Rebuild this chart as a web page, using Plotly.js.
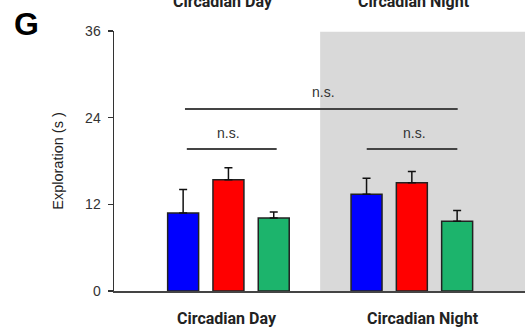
<!DOCTYPE html>
<html>
<head>
<meta charset="utf-8">
<script src="https://cdn.plot.ly/plotly-3.0.1.min.js"></script>
<style>html,body{margin:0;padding:0;background:#fff;}#chart{width:531px;height:329px;}</style>
</head>
<body>
<div id="chart"></div>
<script>
var categories = ["Circadian Day", "Circadian Night"];
var blueValues = [10.8, 13.4];
var blueErrors = [3.25, 2.2];
var redValues = [15.4, 15.0];
var redErrors = [1.65, 1.55];
var greenValues = [10.1, 9.65];
var greenErrors = [0.85, 1.5];
var yTicks = [0, 12, 24, 36];
var sigLabel = "n.s.";

function barTrace(vals, errs, color) {
  return {
    type: "bar",
    x: categories,
    y: vals,
    marker: {color: color, line: {color: "#222", width: 1.5}},
    error_y: {type: "data", array: errs, arrayminus: errs.map(function(){return 0;}), symmetric: false,
              color: "#111", thickness: 1.5, width: 4},
    hoverinfo: "none",
    showlegend: false
  };
}

var data = [
  barTrace(blueValues, blueErrors, "#0000ff"),
  barTrace(redValues, redErrors, "#ff0000"),
  barTrace(greenValues, greenErrors, "#1cb46c")
];

var tickFont = {family: "Liberation Sans, Arial, sans-serif", size: 14, color: "#333"};
var catFont = {family: "Roboto, Arial, sans-serif", size: 16, color: "#222", weight: "bold"};
var nsFont = {family: "Liberation Sans, Arial, sans-serif", size: 14, color: "#333"};

var layout = {
  width: 531, height: 329,
  margin: {l: 114, r: 6, t: 31, b: 38, pad: 0},
  paper_bgcolor: "#fff", plot_bgcolor: "rgba(0,0,0,0)",
  barmode: "group", bargap: 0.259, bargroupgap: 0.316,
  xaxis: {
    type: "category", range: [-0.624, 1.617], showline: true, linecolor: "#444", linewidth: 1.5,
    ticks: "", showticklabels: false, showgrid: false, zeroline: false, fixedrange: true
  },
  yaxis: {
    range: [0, 36], tickvals: yTicks, ticktext: yTicks.map(String), showline: true, linecolor: "#333", linewidth: 1.5,
    ticks: "outside", ticklen: 5, tickwidth: 1.5, tickcolor: "#333", showgrid: false, zeroline: false,
    tickfont: tickFont, ticklabelstandoff: 4,
    title: {text: "Exploration (s )", font: {family: "Liberation Sans, Arial, sans-serif", size: 14.5, color: "#222"}, standoff: 18}
  },
  shapes: [
    {type: "rect", xref: "x", yref: "y", x0: 0.5, x1: 1.617, y0: 0, y1: 35.9, fillcolor: "#d9d9d9", line: {width: 0}, layer: "below"},
    {type: "line", xref: "x", yref: "y", x0: -0.237, x1: 1.25, y0: 25.2, y1: 25.2, line: {color: "#444", width: 2}},
    {type: "line", xref: "x", yref: "y", x0: -0.227, x1: 0.263, y0: 19.67, y1: 19.67, line: {color: "#444", width: 2}},
    {type: "line", xref: "x", yref: "y", x0: 0.754, x1: 1.248, y0: 19.67, y1: 19.67, line: {color: "#444", width: 2}}
  ],
  annotations: [
    {xref: "x", yref: "y", x: 0.52, y: 27.6, text: sigLabel, showarrow: false, font: nsFont},
    {xref: "x", yref: "y", x: 0.003, y: 21.9, text: sigLabel, showarrow: false, font: nsFont},
    {xref: "x", yref: "y", x: 1.017, y: 21.9, text: sigLabel, showarrow: false, font: nsFont},
    {xref: "x", yref: "paper", x: -0.007, y: -0.104, yanchor: "middle", text: categories[0], showarrow: false, font: catFont},
    {xref: "x", yref: "paper", x: 1.06, y: -0.104, yanchor: "middle", text: categories[1], showarrow: false, font: catFont},
    {xref: "x", yref: "paper", x: -0.03, y: 1.115, yanchor: "middle", text: categories[0], showarrow: false, font: catFont},
    {xref: "x", yref: "paper", x: 1.01, y: 1.115, yanchor: "middle", text: categories[1], showarrow: false, font: catFont},
    {xref: "paper", yref: "paper", x: -0.212, y: 1.027, xanchor: "center", yanchor: "middle", text: "G", showarrow: false,
     font: {family: "Liberation Sans, Arial, sans-serif", size: 32, color: "#000", weight: "bold"}}
  ]
};

Plotly.newPlot("chart", data, layout, {displayModeBar: false, staticPlot: true});
</script>
</body>
</html>
